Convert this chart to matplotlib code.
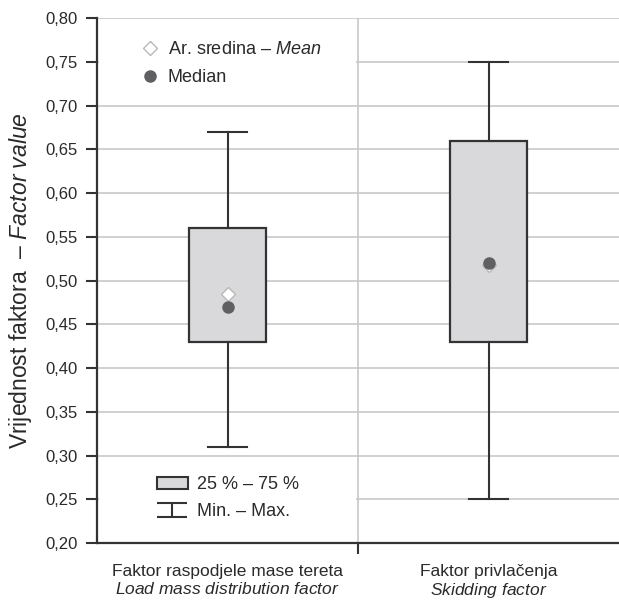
import matplotlib
matplotlib.use("Agg")
import matplotlib.pyplot as plt
from matplotlib.lines import Line2D
from matplotlib.patches import Patch, Rectangle
from matplotlib.path import Path
import numpy as np

# Podaci ocitani sa slike
kategorije = ["Faktor raspodjele mase tereta", "Faktor privlačenja"]
kategorije_en = ["Load\\ mass\\ distribution\\ factor", "Skidding\\ factor"]
q1 = [0.43, 0.43]
q3 = [0.56, 0.66]
minimumi = [0.31, 0.25]
maksimumi = [0.67, 0.75]
medijani = [0.47, 0.52]
sredine = [0.485, 0.518]
y_tickovi = [0.20, 0.25, 0.30, 0.35, 0.40, 0.45, 0.50, 0.55, 0.60, 0.65, 0.70, 0.75, 0.80]
y_oznake = ["0,20", "0,25", "0,30", "0,35", "0,40", "0,45", "0,50", "0,55", "0,60", "0,65", "0,70", "0,75", "0,80"]

plt.rcParams["font.family"] = ["Liberation Sans", "DejaVu Sans"]
plt.rcParams["mathtext.fontset"] = "custom"
plt.rcParams["mathtext.rm"] = "Liberation Sans"
plt.rcParams["mathtext.it"] = "Liberation Sans:italic"
plt.rcParams["text.color"] = "#2a2a2a"
plt.rcParams["xtick.labelcolor"] = "#2a2a2a"
plt.rcParams["ytick.labelcolor"] = "#2a2a2a"
plt.rcParams["axes.labelcolor"] = "#2a2a2a"

tamno = "#333333"
fig = plt.figure(figsize=(6.19, 6.03), dpi=100)
ax = fig.add_axes([97 / 619, 60 / 603, 522 / 619, 525 / 603])

pozicije = np.arange(1, len(kategorije) + 1)
stats = []
for i in range(len(kategorije)):
    stats.append(dict(q1=q1[i], q3=q3[i], whislo=minimumi[i], whishi=maksimumi[i],
                      med=medijani[i], fliers=[]))

# kutije i brkovi
ax.bxp(stats, positions=pozicije, widths=0.295, capwidths=0.153, patch_artist=True,
       showfliers=False, zorder=3,
       boxprops=dict(facecolor="#d9d9db", edgecolor=tamno, linewidth=1.6),
       whiskerprops=dict(color=tamno, linewidth=1.5),
       capprops=dict(color=tamno, linewidth=1.5),
       medianprops=dict(visible=False))

ax.plot(pozicije, sredine, "D", mfc="white", mec="#b8b8b8", mew=1.0, ms=7.5, zorder=4)
ax.plot(pozicije, medijani, "o", mfc="#606063", mec="#606063", ms=8, zorder=5)

ax.set_xlim(0.5, 2.5)
ax.set_ylim(0.2, 0.8)
ax.set_yticks(y_tickovi)
ax.set_yticklabels(y_oznake)
ax.set_xticks([1.5])
ax.set_xticklabels([""])
ax.set_xticks(pozicije, minor=True)
ax.set_xticklabels([k + "\n$\\mathit{" + e + "}$" for k, e in zip(kategorije, kategorije_en)],
                   minor=True, linespacing=1.15)
ax.tick_params(axis="x", which="minor", length=0, pad=15, labelsize=12.5)
ax.tick_params(axis="x", which="major", length=8, width=1.5, color=tamno)
ax.tick_params(axis="y", length=8, width=1.5, color=tamno, labelsize=12, pad=6)

ax.set_axisbelow(True)
ax.grid(True, axis="both", which="major", color="#c8c8c8", linewidth=1.2)
for s in ["top", "right"]:
    ax.spines[s].set_visible(False)
for s in ["left", "bottom"]:
    ax.spines[s].set_linewidth(1.6)
    ax.spines[s].set_color(tamno)

ax.set_ylabel("Vrijednost faktora  – $\\mathit{Factor\\ value}$", fontsize=16.5, labelpad=8)

# bijela podloga ispod legendi
ax.add_patch(Rectangle((0.004, 0.867), 0.493, 0.1, transform=ax.transAxes, facecolor="white",
                       edgecolor="none", zorder=1))
ax.add_patch(Rectangle((0.004, 0.025), 0.493, 0.125, transform=ax.transAxes, facecolor="white",
                       edgecolor="none", zorder=1))

h1 = [Line2D([], [], ls="", marker="D", mfc="white", mec="#b8b8b8", mew=1.0, ms=7.5),
      Line2D([], [], ls="", marker="o", mfc="#606063", mec="#606063", ms=8)]
leg1 = ax.legend(h1, ["Ar. sredina – $\\mathit{Mean}$", "Median"], loc="center left",
                 bbox_to_anchor=(0.084, 0.913), frameon=False, fontsize=13,
                 handlelength=1.0, handletextpad=0.5, borderpad=0, borderaxespad=0,
                 labelspacing=0.6)
ax.add_artist(leg1)

ibeam = Path([(-1, 0.45), (1, 0.45), (0, 0.45), (0, -0.45), (-1, -0.45), (1, -0.45)],
             [Path.MOVETO, Path.LINETO, Path.MOVETO, Path.LINETO, Path.MOVETO, Path.LINETO])
h2 = [Patch(facecolor="#d9d9db", edgecolor=tamno, linewidth=1.5),
      Line2D([], [], ls="", marker=ibeam, mfc="none", mec=tamno, mew=1.5, ms=21)]
ax.legend(h2, ["25 % – 75 %", "Min. – Max."], loc="center left",
          bbox_to_anchor=(0.115, 0.085), frameon=False, fontsize=13,
          handlelength=1.7, handletextpad=0.5, borderpad=0, borderaxespad=0,
          labelspacing=0.55)

fig.savefig("out.png", dpi=100)
